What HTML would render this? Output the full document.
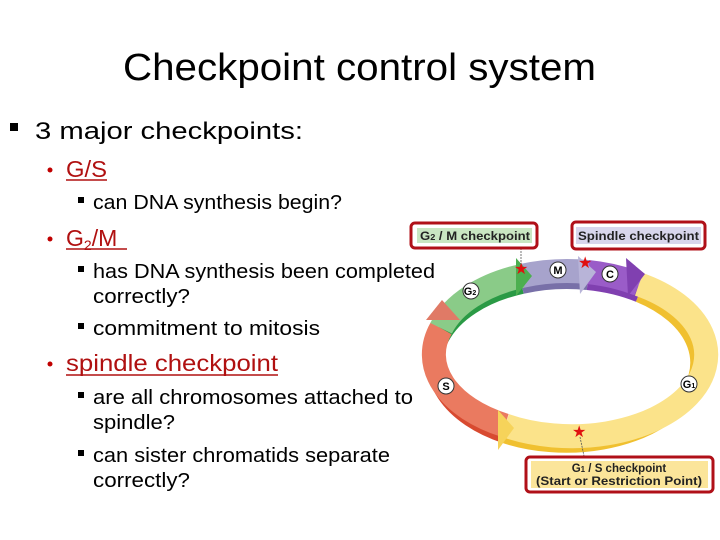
<!DOCTYPE html>
<html><head><meta charset="utf-8"><style>
html,body{margin:0;padding:0;background:#fff;}
svg{display:block;}
text{font-family:"Liberation Sans",sans-serif;}
</style></head><body>
<svg width="720" height="540" viewBox="0 0 720 540" xmlns="http://www.w3.org/2000/svg">
<rect width="720" height="540" fill="#fff"/>
<text x="123" y="80" font-size="38" fill="#000" textLength="473" lengthAdjust="spacingAndGlyphs">Checkpoint control system</text>

<rect x="10" y="123" width="8" height="8" fill="#000"/>
<text x="35" y="139" font-size="24" textLength="268" lengthAdjust="spacingAndGlyphs">3 major checkpoints:</text>

<circle cx="50" cy="170" r="2.5" fill="#c00000"/>
<text x="66" y="177" font-size="23" fill="#b01010" textLength="41" lengthAdjust="spacingAndGlyphs">G/S</text>
<line x1="66" y1="180" x2="107" y2="180" stroke="#b01010" stroke-width="1.5"/>
<rect x="78" y="197" width="6" height="6" fill="#000"/>
<text x="93" y="209" font-size="20" textLength="249" lengthAdjust="spacingAndGlyphs">can DNA synthesis begin?</text>

<circle cx="50" cy="239" r="2.5" fill="#c00000"/>
<text x="66" y="246" font-size="23" fill="#b01010">G<tspan font-size="14" dy="4">2</tspan><tspan dy="-4">/M</tspan></text>
<line x1="66" y1="249" x2="127" y2="249" stroke="#b01010" stroke-width="1.5"/>
<rect x="78" y="266" width="6" height="6" fill="#000"/>
<text x="93" y="278" font-size="20" textLength="342" lengthAdjust="spacingAndGlyphs">has DNA synthesis been completed</text>
<text x="93" y="303" font-size="20" textLength="97" lengthAdjust="spacingAndGlyphs">correctly?</text>
<rect x="78" y="323" width="6" height="6" fill="#000"/>
<text x="93" y="335" font-size="20" textLength="227" lengthAdjust="spacingAndGlyphs">commitment to mitosis</text>

<circle cx="50" cy="364" r="2.5" fill="#c00000"/>
<text x="66" y="371" font-size="23" fill="#b01010" textLength="212" lengthAdjust="spacingAndGlyphs">spindle checkpoint</text>
<line x1="66" y1="375" x2="278" y2="375" stroke="#b01010" stroke-width="1.5"/>
<rect x="78" y="392" width="6" height="6" fill="#000"/>
<text x="93" y="404" font-size="20" textLength="320" lengthAdjust="spacingAndGlyphs">are all chromosomes attached to</text>
<text x="93" y="429" font-size="20" textLength="82" lengthAdjust="spacingAndGlyphs">spindle?</text>
<rect x="78" y="450" width="6" height="6" fill="#000"/>
<text x="93" y="462" font-size="20" textLength="297" lengthAdjust="spacingAndGlyphs">can sister chromatids separate</text>
<text x="93" y="487" font-size="20" textLength="97" lengthAdjust="spacingAndGlyphs">correctly?</text>

<g fill="none" stroke-width="16">
<path d="M 638.9 294.3 A 132 82 0 0 1 505 435.4" stroke="#f0c030"/>
<path d="M 505 435.4 A 132 82 0 0 1 441.1 338.3" stroke="#d84a30"/>
<path d="M 441.1 338.3 A 132 82 0 0 1 521.9 285.9" stroke="#2a9a45"/>
<path d="M 521.9 285.9 A 132 82 0 0 1 587.6 282" stroke="#7870a8"/>
<path d="M 587.6 282 A 132 82 0 0 1 638.9 294.3" stroke="#8040b0"/>
</g>
<g fill="none" stroke-width="24">
<path d="M 638.9 284.3 A 132 80 0 0 1 505 425.4" stroke="#fbe38a"/>
<path d="M 505 425.4 A 132 80 0 0 1 441.1 328.3" stroke="#ea7a60"/>
<path d="M 441.1 328.3 A 132 80 0 0 1 521.9 275.9" stroke="#8acb88"/>
<path d="M 521.9 275.9 A 132 80 0 0 1 587.6 272" stroke="#a7a3cc"/>
<path d="M 587.6 272 A 132 80 0 0 1 638.9 284.3" stroke="#9a5cc8"/>
</g>
<polygon points="516,258 532,276 516,296" fill="#4caf50"/>
<polygon points="578,256 596,272 580,294" fill="#b8b4d8"/>
<polygon points="626,258 645,274 628,296" fill="#8040b0"/>
<polygon points="498,410 514,428 498,450" fill="#f6d35a"/>
<polygon points="426,320 442,300 460,320" fill="#e07a66"/>

<g fill="#e01010" font-size="16" font-family="DejaVu Sans">
<text x="514" y="274">★</text>
<text x="578" y="268">★</text>
<text x="572" y="437">★</text>
</g>
<line x1="521" y1="248" x2="521" y2="264" stroke="#555" stroke-width="0.8" stroke-dasharray="2,1"/>
<line x1="580" y1="437" x2="584" y2="456" stroke="#555" stroke-width="0.8" stroke-dasharray="2,1"/>

<g font-size="11" font-weight="bold" text-anchor="middle" fill="#000">
<circle cx="471" cy="291" r="8" fill="#fff" stroke="#333"/><text x="470" y="295">G<tspan font-size="7">2</tspan></text>
<circle cx="558" cy="270" r="8" fill="#fff" stroke="#333"/><text x="558" y="274">M</text>
<circle cx="610" cy="274" r="8" fill="#fff" stroke="#333"/><text x="610" y="278">C</text>
<circle cx="446" cy="386" r="8" fill="#fff" stroke="#333"/><text x="446" y="390">S</text>
<circle cx="689" cy="384" r="8" fill="#fff" stroke="#333"/><text x="689" y="388">G<tspan font-size="7">1</tspan></text>
</g>

<rect x="411" y="223" width="126" height="25" rx="4" fill="#fff" stroke="#b01018" stroke-width="3"/>
<rect x="417" y="228" width="115" height="15" fill="#c9e6c2"/>
<text x="420" y="240" font-size="11.5" font-weight="bold" fill="#222" textLength="110" lengthAdjust="spacingAndGlyphs">G<tspan font-size="8">2</tspan> / M checkpoint</text>

<rect x="572" y="222" width="133" height="27" rx="4" fill="#fff" stroke="#b01018" stroke-width="3"/>
<rect x="576" y="227" width="125" height="17" fill="#d8d6ec"/>
<text x="578" y="240" font-size="11.5" font-weight="bold" fill="#222" textLength="121" lengthAdjust="spacingAndGlyphs">Spindle checkpoint</text>

<rect x="526" y="457" width="187" height="35" rx="4" fill="#fff" stroke="#b01018" stroke-width="3"/>
<rect x="531" y="461" width="177" height="27" fill="#fbe59a"/>
<text x="619" y="472" font-size="11.5" font-weight="bold" fill="#222" text-anchor="middle">G<tspan font-size="8">1</tspan> / S checkpoint</text>
<text x="619" y="485" font-size="11.5" font-weight="bold" fill="#222" text-anchor="middle" textLength="166" lengthAdjust="spacingAndGlyphs">(Start or Restriction Point)</text>
</svg>
</body></html>
